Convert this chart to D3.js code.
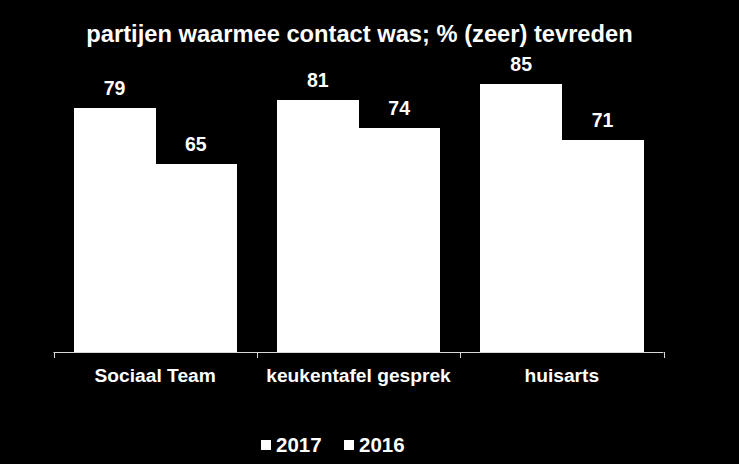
<!DOCTYPE html>
<html>
<head>
<meta charset="utf-8">
<script src="https://cdn.jsdelivr.net/npm/d3@7"></script>
<style>
  html, body { margin: 0; padding: 0; background: #000; }
  svg { display: block; }
  text { font-family: "Liberation Sans", Arial, sans-serif; fill: #fff; }
</style>
</head>
<body>
<script>
const title = "partijen waarmee contact was; % (zeer) tevreden";
const categories = ["Sociaal Team", "keukentafel gesprek", "huisarts"];
const seriesNames = ["2017", "2016"];
const values2017 = [79, 81, 85];
const values2016 = [65, 74, 71];

const W = 739, H = 464;
const svg = d3.select("body").append("svg").attr("width", W).attr("height", H);
svg.append("rect").attr("width", W).attr("height", H).attr("fill", "#000");

const data = categories.map((c, i) => ({ cat: c, vals: [values2017[i], values2016[i]] }));

const x0 = d3.scaleBand().domain(categories).range([53.5, 663.5]).padding(0);
const x1 = d3.scaleBand().domain(seriesNames).range([0, x0.bandwidth()]).paddingInner(0).paddingOuter(0.25);
const y = d3.scaleLinear().domain([18, 85]).range([352, 84]);

// title
svg.append("text").attr("x", 359.5).attr("y", 42).attr("text-anchor", "middle")
  .attr("font-size", 23.7).attr("font-weight", "bold").text(title);

// bars
const g = svg.append("g");
const groups = g.selectAll("g.grp").data(data).join("g")
  .attr("transform", d => `translate(${x0(d.cat)},0)`);
groups.selectAll("rect").data(d => d.vals.map((v, i) => ({ s: seriesNames[i], v })))
  .join("rect")
  .attr("x", d => x1(d.s)).attr("width", x1.bandwidth() + 0.5)
  .attr("y", d => y(d.v)).attr("height", d => y.range()[0] - y(d.v))
  .attr("fill", "#fff").attr("shape-rendering", "crispEdges");
groups.selectAll("text.val").data(d => d.vals.map((v, i) => ({ s: seriesNames[i], v })))
  .join("text").attr("class", "val")
  .attr("x", d => x1(d.s) + x1.bandwidth() / 2)
  .attr("y", d => y(d.v) - 13)
  .attr("text-anchor", "middle").attr("font-size", 19.5).attr("font-weight", "bold").text(d => d.v);

// x axis
const axis = d3.axisBottom(x0).tickSize(0).tickPadding(0);
const ax = svg.append("g").attr("transform", "translate(0,352)").call(axis);
ax.select(".domain").remove();
ax.selectAll(".tick text").attr("dy", null).attr("y", 30)
  .attr("font-size", 19.2).attr("font-weight", "bold").attr("fill", "#fff")
  .style("font-family", "Liberation Sans, Arial, sans-serif");
svg.append("line").attr("x1", 53.5).attr("x2", 663.5).attr("y1", 352.5).attr("y2", 352.5)
  .attr("stroke", "#d9d9d9").attr("stroke-width", 1);
const bounds = categories.map(c => x0(c)).concat([x0(categories[categories.length - 1]) + x0.bandwidth()]);
svg.selectAll("line.tk").data(bounds).join("line").attr("class", "tk")
  .attr("x1", d => Math.round(d) + 0.5).attr("x2", d => Math.round(d) + 0.5).attr("y1", 352).attr("y2", 358)
  .attr("stroke", "#d9d9d9").attr("stroke-width", 1);

// legend
const leg = svg.append("g");
const legX = [261, 344];
seriesNames.forEach((s, i) => {
  leg.append("rect").attr("x", legX[i]).attr("y", 440).attr("width", 10).attr("height", 10).attr("fill", "#fff");
  leg.append("text").attr("x", legX[i] + 15).attr("y", 452).attr("font-size", 20.5).attr("font-weight", "bold").text(s);
});
</script>
</body>
</html>
